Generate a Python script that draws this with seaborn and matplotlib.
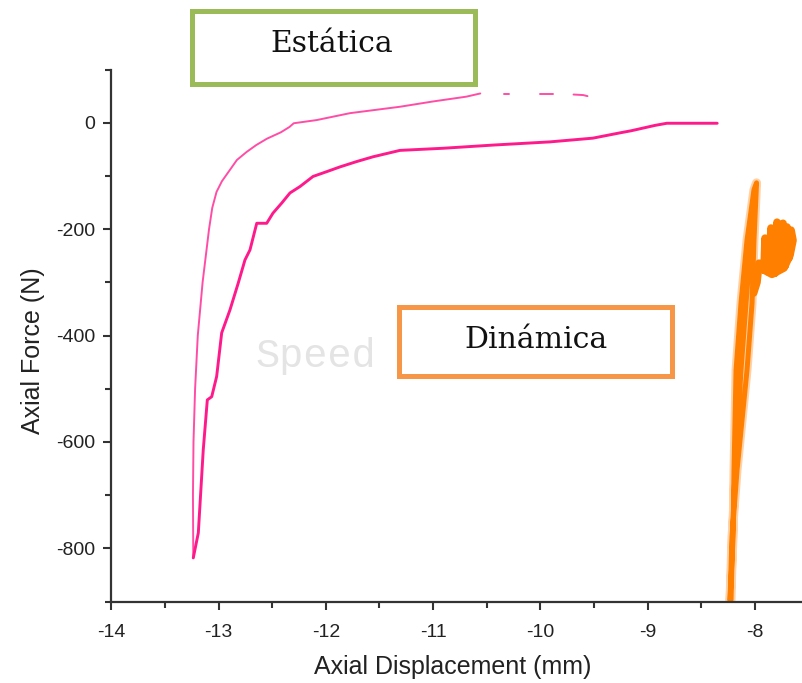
import numpy as np
import pandas as pd
import matplotlib
matplotlib.use("Agg")
import matplotlib.pyplot as plt
from matplotlib.patches import Rectangle
from matplotlib.ticker import MultipleLocator
import seaborn as sns

# Static test: loading branch (inner curve) from peak compression back to rest
load_x = [-13.237, -13.19, -13.144, -13.106, -13.065, -13.019, -12.972, -12.895,
          -12.817, -12.755, -12.708, -12.645, -12.552, -12.494, -12.412, -12.335,
          -12.242, -12.12, -11.993, -11.868, -11.713, -11.56, -11.31, -10.907,
          -10.44, -9.91, -9.51, -9.256, -9.15, -9.04, -8.93, -8.82, -8.35]
load_y = [-818, -771, -615, -521, -515, -477, -395, -352, -301, -258, -239, -189,
          -189, -170, -151, -132, -120, -101, -92, -83, -73, -64, -52, -48, -42,
          -36, -29, -19, -15, -10, -5, -1, -1]

# Static test: outer branch, recorded in pieces near the end
unload_x = [-13.237, -13.240, -13.235, -13.22, -13.195, -13.15, -13.12, -13.09,
            -13.06, -13.02, -12.97, -12.90, -12.83, -12.74, -12.65, -12.55,
            -12.42, -12.34, -12.30, -12.086, -11.775, -11.31, -11.0,
            -10.69, -10.56,
            -10.34, -10.29,
            -10.0, -9.88,
            -9.69, -9.60, -9.56]
unload_y = [-818, -700, -600, -500, -400, -300, -250, -200,
            -160, -130, -110, -90, -70, -55, -42, -30,
            -18, -8, -1, 5, 18, 30, 40,
            49, 55,
            54, 54,
            54, 54,
            53, 52, 50]
unload_seg = [0] * 25 + [1] * 2 + [2] * 2 + [3] * 3

# Dynamic test: main spike (several passes up and down the same path)
spike_x = [-8.230, -8.202, -8.193, -8.174, -8.128, -8.072, -8.007, -7.983,
           -8.007, -8.025, -8.072, -8.165, -8.212, -8.230,
           -8.221, -8.207, -8.184, -8.128, -8.081, -8.035, -7.998]
spike_y = [-897, -779, -653, -465, -339, -221, -126, -113,
           -221, -339, -465, -653, -779, -897,
           -897, -779, -653, -465, -339, -221, -126]

# Dynamic test: secondary branch and oscillating cluster
burst_x = [-8.010, -7.979, -7.960, -7.913, -7.904, -7.867, -7.848, -7.811, -7.792,
           -7.764, -7.736, -7.717, -7.699, -7.680, -7.661, -7.643, -7.671, -7.727,
           -7.839, -7.913]
burst_y = [-320, -300, -264, -277, -217, -281, -198, -283, -187,
           -270, -189, -269, -196, -254, -202, -221, -249, -273,
           -285, -277]

x_ticks = [-14, -13, -12, -11, -10, -9, -8]
y_ticks = [-800, -600, -400, -200, 0]

sns.set_theme(style="ticks")
plt.rcParams["font.family"] = ["Liberation Sans", "DejaVu Sans"]
plt.rcParams["axes.unicode_minus"] = False

fig = plt.figure(figsize=(8.02, 6.83), dpi=100)
ax = fig.add_axes([0.139, 0.1193, 0.861, 0.7789])

pink = "#ff1a8c"
orange = "#ff7f00"

df_load = pd.DataFrame({"x": load_x, "y": load_y})
df_unload = pd.DataFrame({"x": unload_x, "y": unload_y, "seg": unload_seg})
df_spike = pd.DataFrame({"x": spike_x, "y": spike_y})
df_burst = pd.DataFrame({"x": burst_x, "y": burst_y})

sns.lineplot(data=df_unload, x="x", y="y", units="seg", estimator=None, sort=False,
             color="#ff4da6", linewidth=1.4, ax=ax)
sns.lineplot(data=df_load, x="x", y="y", estimator=None, sort=False,
             color=pink, linewidth=2.1, ax=ax)
sns.lineplot(data=df_spike, x="x", y="y", estimator=None, sort=False,
             color="#ffb36b", linewidth=6.5, alpha=0.6, ax=ax)
sns.lineplot(data=df_spike, x="x", y="y", estimator=None, sort=False,
             color=orange, linewidth=3.6, ax=ax)
sns.lineplot(data=df_burst, x="x", y="y", estimator=None, sort=False,
             color=orange, linewidth=5.5, ax=ax)

ax.set_xlim(-14, -7.559)
ax.set_ylim(-900, 100)
ax.set_xticks(x_ticks)
ax.set_xticklabels([str(v) for v in x_ticks])
ax.set_yticks(y_ticks)
ax.set_yticklabels([str(v) for v in y_ticks])
ax.xaxis.set_minor_locator(MultipleLocator(0.5))
ax.yaxis.set_minor_locator(MultipleLocator(100))

for side in ("top", "right"):
    ax.spines[side].set_visible(False)
for side in ("left", "bottom"):
    ax.spines[side].set_linewidth(1.6)
    ax.spines[side].set_color("#333333")

ax.tick_params(which="major", direction="out", length=5.5, width=1.5,
               color="#333333", labelsize=14, labelcolor="#222222")
ax.tick_params(axis="x", which="major", pad=11)
ax.tick_params(axis="y", which="major", pad=6)
ax.tick_params(which="minor", direction="out", length=4, width=1.5, color="#333333")

ax.set_xlabel("Axial Displacement (mm)", fontsize=18, color="#222222", va="center")
ax.set_ylabel("Axial Force (N)", fontsize=18, color="#222222", va="center")
ax.xaxis.set_label_coords(0.4935, -0.123)
ax.yaxis.set_label_coords(-0.114, 0.471)

# Watermark
fig.text(0.318, 0.4627, "Speed", fontsize=29, color="#e4e4e4",
         family=["Liberation Mono", "DejaVu Sans Mono"], va="baseline", ha="left")

# Labelled boxes
fig.patches.append(Rectangle((0.2388, 0.8763), 0.3529, 0.1083, transform=fig.transFigure,
                             fill=False, edgecolor="#9bbb59", linewidth=3.6))
fig.text(0.414, 0.9356, "Estática", fontsize=21.5, family=["DejaVu Serif"],
         color="#111111", ha="center", va="center")

fig.patches.append(Rectangle((0.4981, 0.4502), 0.3392, 0.0996, transform=fig.transFigure,
                             fill=False, edgecolor="#f79646", linewidth=3.6))
fig.text(0.668, 0.502, "Dinámica", fontsize=21.5, family=["DejaVu Serif"],
         color="#111111", ha="center", va="center")

fig.savefig("out.png", dpi=100)
